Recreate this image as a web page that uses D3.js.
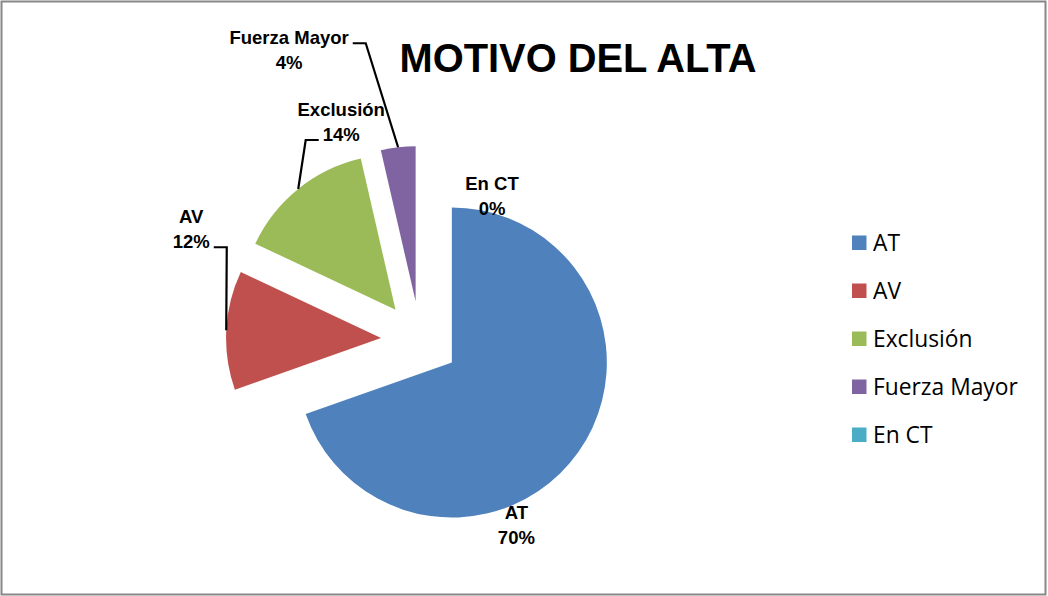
<!DOCTYPE html>
<html>

<head>
    <script src="https://d3js.org/d3.v7.min.js"></script>
    <title>Motivo del alta</title>
    <meta charset="utf-8" />
    <style>
        body { margin: 0; background: #fff; }
        svg { display: block; }
    </style>
</head>

<body>
    <svg id="pieChart" width="1048" height="596"></svg>

    <script>
        // data
        const categories = ["AT", "AV", "Exclusión", "Fuerza Mayor", "En CT"];
        const values = [69.6, 12.4, 14.4, 3.6, 0];
        const colours = ["#4F81BD", "#C0504D", "#9BBB59", "#8064A2", "#4BACC6"];

        // label placement relative to the point on each slice's outer edge
        const labelOffsets = [[-62, 67], [-35, -107], [43, -73], [-109, -103], [72, 44]];
        const leaders = [null, { side: "right", line: 1 }, { side: "left", line: 1 }, { side: "right", line: 0 }, null];

        var width = 1048;
        var height = 596;
        var cx = 420, cy = 340;
        var radius = 155;
        var explode = 39;

        var svg = d3.select("#pieChart");

        // chart border
        svg.append("rect")
            .attr("x", 1.5)
            .attr("y", 1.5)
            .attr("width", width - 4)
            .attr("height", height - 3)
            .attr("fill", "#fff")
            .attr("stroke", "#878787")
            .attr("stroke-width", 2);

        // title
        svg.append("text")
            .attr("x", 578)
            .attr("y", 71.5)
            .attr("text-anchor", "middle")
            .attr("font-family", "'Liberation Sans', Arial, sans-serif")
            .attr("font-weight", "bold")
            .attr("font-size", 41)
            .attr("textLength", 357)
            .attr("lengthAdjust", "spacingAndGlyphs")
            .text("MOTIVO DEL ALTA");

        const colour = d3.scaleOrdinal().domain(categories).range(colours);
        const total = d3.sum(values);

        const pie = d3.pie().sort(null).value(d => d.value);
        const arc = d3.arc().innerRadius(0).outerRadius(radius);

        const slices = pie(categories.map((c, i) => ({ name: c, value: values[i] })));

        // every slice pulled out along its mid angle
        function offset(d) {
            var a = (d.startAngle + d.endAngle) / 2;
            return [cx + explode * Math.sin(a), cy - explode * Math.cos(a)];
        }

        var g = svg.append("g");

        g.selectAll("path")
            .data(slices)
            .enter().append("path")
            .attr("d", arc)
            .attr("transform", d => "translate(" + offset(d) + ")")
            .attr("fill", d => colour(d.data.name));

        // data labels
        var labelFont = "'Liberation Sans', Arial, sans-serif";
        slices.forEach(function (d, i) {
            var o = offset(d);
            var a = (d.startAngle + d.endAngle) / 2;
            var ax = o[0] + radius * Math.sin(a);
            var ay = o[1] - radius * Math.cos(a);
            var lx = ax + labelOffsets[i][0];
            var ly = ay + labelOffsets[i][1];

            var lines = [d.data.name, Math.round(d.value / total * 100) + "%"];
            var widths = [];
            lines.forEach(function (t, k) {
                var txt = svg.append("text")
                    .attr("x", lx)
                    .attr("y", ly + k * 25)
                    .attr("text-anchor", "middle")
                    .attr("font-family", labelFont)
                    .attr("font-weight", "bold")
                    .attr("font-size", 18.5)
                    .text(t);
                widths.push(txt.node().getComputedTextLength());
            });

            var ld = leaders[i];
            if (ld) {
                var yy = ly + ld.line * 25 - 1;
                var half = widths[ld.line] / 2;
                var sx = ld.side === "right" ? lx + half + 4 : lx - half - 4;
                var ex = ld.side === "right" ? sx + 13 : sx - 13;
                svg.append("path")
                    .attr("d", d3.line()([[sx, yy], [ex, yy], [ax, ay]]))
                    .attr("fill", "none")
                    .attr("stroke", "#000")
                    .attr("stroke-width", 2.2);
            }
        });

        // legend
        var legend = svg.selectAll(".legend")
            .data(categories)
            .enter().append("g")
            .attr("class", "legend")
            .attr("transform", (d, i) => "translate(852," + (250.5 + i * 48) + ")");

        legend.append("rect")
            .attr("x", 0)
            .attr("y", -15)
            .attr("width", 14.5)
            .attr("height", 14.5)
            .attr("fill", d => colour(d));

        legend.append("text")
            .attr("x", 21)
            .attr("y", 0)
            .attr("font-family", "'Open Sans', sans-serif")
            .attr("font-size", 22.8)
            .attr("fill", "#000")
            .text(d => d);
    </script>
</body>

</html>
